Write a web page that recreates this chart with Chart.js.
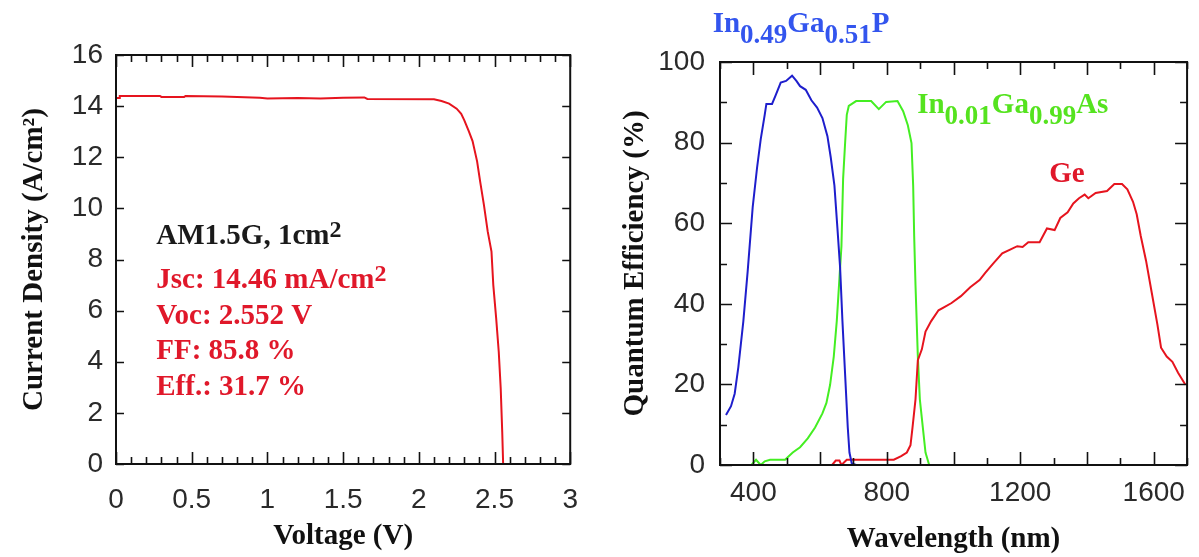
<!DOCTYPE html>
<html>
<head>
<meta charset="utf-8">
<script src="https://cdn.jsdelivr.net/npm/chart.js@4.4.0/dist/chart.umd.min.js"></script>
<style>
  html, body { margin: 0; padding: 0; background: #fff; }
  #wrap { position: relative; width: 1199px; height: 557px; overflow: hidden; }
  .box { position: absolute; top: 0; height: 557px; }
  #ivBox { left: 0; width: 600px; }
  #qeBox { left: 600px; width: 599px; }
</style>
</head>
<body>
<div id="wrap">
  <div class="box" id="ivBox"><canvas id="chart-iv"></canvas></div>
  <div class="box" id="qeBox"><canvas id="chart-qe"></canvas></div>
</div>
<script>
// J-V curve (AM1.5G)
var ivVoltage = [0, 0.02, 0.025, 0.29, 0.30, 0.45, 0.46, 0.7, 0.95, 1.0, 1.2, 1.35, 1.5, 1.64, 1.66, 2.1, 2.15, 2.2, 2.25,
    2.28, 2.30, 2.33, 2.355, 2.385, 2.405, 2.43, 2.455, 2.48, 2.492, 2.511, 2.528, 2.541, 2.551, 2.557];
var ivCurrent = [14.32, 14.32, 14.40, 14.40, 14.36, 14.36, 14.40, 14.38, 14.33, 14.30, 14.32, 14.30, 14.33, 14.34, 14.28, 14.27, 14.2, 14.1, 13.9,
    13.7, 13.45, 13.02, 12.63, 11.84, 11.06, 10.14, 9.10, 8.31, 7.0, 5.70, 4.39, 2.95, 1.25, 0];

// quantum efficiency
var ingapWavelength = [318, 333, 344, 355, 370, 383, 398, 411, 422, 434, 439, 456, 467, 482, 498, 516, 529, 540, 557, 574,
    591, 607, 622, 632, 643, 652, 660, 667, 675, 683, 688, 695, 708];
var ingapQE = [12.4, 14.6, 17.7, 24.3, 35.7, 48.1, 64.0, 73.7, 80.8, 86.9, 89.6, 89.6, 91.8, 94.9, 95.3, 96.6, 95.3, 94.0, 93.1, 90.5,
    88.7, 86.1, 81.6, 76.3, 69.3, 58.7, 49.0, 35.7, 22.5, 9.3, 3.1, 0.4, 0];

var ingaasWavelength = [318, 394, 408, 422, 434, 450, 495, 518, 540, 563, 585, 607, 619, 630, 641, 650, 658, 664, 669, 675,
    680, 686, 708, 753, 776, 798, 832, 849, 863, 874, 879, 882, 886, 893, 899, 908, 916, 927, 972];
var ingaasQE = [0, 0, 1.3, 0, 0.9, 1.3, 1.3, 3.1, 4.4, 6.6, 9.3, 12.8, 15.4, 19.9, 26.9, 35.7, 46.3, 54.3, 71.0, 79.9,
    86.9, 89.1, 90.3, 90.3, 88.3, 90.1, 90.3, 87.8, 84.3, 79.9, 69.3, 56.9, 44.6, 26.9, 16.3, 9.3, 3.1, 0, 0];

var geWavelength = [449, 501, 636, 647, 658, 664, 680, 731, 821, 843, 860, 871, 877, 886, 893, 905, 916, 933, 955, 975,
    994, 1022, 1050, 1078, 1095, 1118, 1146, 1168, 1191, 1207, 1224, 1258, 1280, 1303, 1320, 1342, 1359, 1376, 1393, 1404,
    1426, 1460, 1482, 1505, 1521, 1538, 1549, 1561, 1577, 1594, 1611, 1622, 1639, 1656, 1673, 1695];
var geQE = [0, 0, 0, 1.1, 1.1, 0, 1.3, 1.3, 1.3, 2.2, 3.1, 4.9, 9.3, 16.3, 26.0, 28.7, 33.1, 35.7, 38.4, 39.3,
    40.2, 41.9, 44.1, 45.9, 47.7, 49.9, 52.5, 53.4, 54.3, 54.1, 55.3, 55.3, 58.7, 58.3, 61.3, 62.7, 64.9, 66.2, 67.1, 66.2,
    67.5, 68.0, 69.7, 69.7, 68.4, 65.3, 62.2, 56.9, 50.7, 42.8, 34.9, 29.1, 26.9, 25.6, 22.9, 19.9];

// tick labels
var voltTicks = [0, 0.5, 1, 1.5, 2, 2.5, 3];
var currTicks = [0, 2, 4, 6, 8, 10, 12, 14, 16];
var wlTicks = [400, 800, 1200, 1600];
var qeTicks = [0, 20, 40, 60, 80, 100];

var SERIF = '"Liberation Serif", "Times New Roman", serif';
var SANS = '"Liberation Sans", Arial, sans-serif';

function pts(xs, ys) {
    return xs.map(function(x, i) { return {x: x, y: ys[i]}; });
}

// frame with inward ticks on all four sides
var frameTicks = {
    id: 'frameTicks',
    afterDatasetsDraw: function(chart, args, o) {
        var ctx = chart.ctx, a = chart.chartArea;
        var xs = chart.scales.x, ys = chart.scales.y;
        ctx.save();
        ctx.strokeStyle = '#111';
        ctx.lineWidth = 1.6;
        var n = Math.round((xs.max - xs.min) / o.xMinor);
        for (var i = 0; i <= n; i++) {
            var v = xs.min + i * o.xMinor;
            var px = Math.round(xs.getPixelForValue(v)) + 0.5;
            var q = v / o.xMajor;
            var len = Math.abs(q - Math.round(q)) < 1e-6 ? o.xLong : o.xShort;
            ctx.beginPath();
            ctx.moveTo(px, a.bottom); ctx.lineTo(px, a.bottom - len);
            ctx.moveTo(px, a.top); ctx.lineTo(px, a.top + len);
            ctx.stroke();
        }
        n = Math.round((ys.max - ys.min) / o.yMinor);
        for (var j = 0; j <= n; j++) {
            var w = ys.min + j * o.yMinor;
            var py = Math.round(ys.getPixelForValue(w)) + 0.5;
            var r = w / o.yMajor;
            var l2 = Math.abs(r - Math.round(r)) < 1e-6 ? o.yLong : o.yShort;
            ctx.beginPath();
            ctx.moveTo(a.left, py); ctx.lineTo(a.left + l2, py);
            ctx.moveTo(a.right, py); ctx.lineTo(a.right - l2, py);
            ctx.stroke();
        }
        ctx.lineWidth = 2;
        ctx.strokeRect(a.left, a.top, a.right - a.left, a.bottom - a.top);
        ctx.restore();
    }
};

// text with sub/superscripts, anchored in data coordinates
var richText = {
    id: 'richText',
    afterDraw: function(chart, args, o) {
        var ctx = chart.ctx, xs = chart.scales.x, ys = chart.scales.y;
        o.items.forEach(function(it) {
            var x = xs.getPixelForValue(it.x), y = ys.getPixelForValue(it.y);
            ctx.save();
            ctx.fillStyle = it.color;
            ctx.textBaseline = 'alphabetic';
            ctx.textAlign = 'left';
            it.runs.forEach(function(r) {
                var size = r.sub ? o.subSize : (r.sup ? o.supSize : o.size);
                var dy = r.sub ? o.subShift : (r.sup ? -o.supShift : 0);
                ctx.font = 'bold ' + size + 'px ' + SERIF;
                ctx.fillText(r.t, x, y + dy);
                x += ctx.measureText(r.t).width;
            });
            ctx.restore();
        });
    }
};

function baseOptions(o) {
    return {
        responsive: true,
        maintainAspectRatio: false,
        animation: false,
        layout: { padding: o.pad },
        plugins: {
            legend: { display: false },
            tooltip: { enabled: false },
            frameTicks: o.frame,
            richText: o.text
        },
        elements: { point: { radius: 0 }, line: { tension: 0, borderWidth: 2 } },
        scales: {
            x: {
                type: 'linear', min: o.xMin, max: o.xMax,
                afterFit: function(s) { s.height = o.xHeight; },
                afterBuildTicks: function(s) { s.ticks = o.xTicks.map(function(v) { return {value: v}; }); },
                grid: { display: false, drawTicks: false },
                border: { display: false },
                ticks: {
                    autoSkip: false, maxRotation: 0, padding: o.xPad, color: '#2a2a2a',
                    font: { family: SANS, size: 28, lineHeight: 1 },
                    callback: function(v) { return String(v); }
                },
                title: {
                    display: true, text: o.xTitle, color: '#111',
                    font: { family: SERIF, size: 29, weight: 'bold', lineHeight: 1 },
                    padding: { top: 0, bottom: o.xTitlePad }
                }
            },
            y: {
                type: 'linear', min: o.yMin, max: o.yMax,
                afterFit: function(s) { s.width = o.yWidth; },
                afterBuildTicks: function(s) { s.ticks = o.yTicks.map(function(v) { return {value: v}; }); },
                grid: { display: false, drawTicks: false },
                border: { display: false },
                ticks: {
                    padding: o.yPad, color: '#2a2a2a',
                    font: { family: SANS, size: 28, lineHeight: 1 },
                    callback: function(v) { return String(v); }
                },
                title: {
                    display: true, text: o.yTitle, color: '#111',
                    font: { family: SERIF, size: 29, weight: 'bold', lineHeight: 1 },
                    padding: { top: o.yTitlePad, bottom: 0 }
                }
            }
        }
    };
}

var red = '#e6141e';
var txtRed = '#e0182a';

var iv = document.getElementById('chart-iv').getContext('2d');
new Chart(iv, {
    type: 'scatter',
    data: {
        datasets: [{
            label: 'J-V',
            data: pts(ivVoltage, ivCurrent),
            showLine: true,
            borderColor: red,
            backgroundColor: red,
            borderWidth: 2
        }]
    },
    options: baseOptions({
        pad: { top: 55, right: 11, left: 0, bottom: 0 },
        xMin: 0, xMax: 3, yMin: 0, yMax: 16,
        xTicks: voltTicks, yTicks: currTicks,
        xHeight: 93, yWidth: 116, xPad: 22, yPad: 13,
        xTitle: 'Voltage (V)', yTitle: 'Current Density (A/cm\u00b2)',
        xTitlePad: 5.5, yTitlePad: 20,
        frame: { xMinor: 0.1, xMajor: 0.5, xLong: 12, xShort: 7, yMinor: 2, yMajor: 2, yLong: 8, yShort: 8 },
        text: {
            size: 29, supSize: 24, supShift: 7, subSize: 27, subShift: 11,
            items: [
                { x: 0.266, y: 8.61, color: '#1a1a1a', runs: [{t: 'AM1.5G, 1cm'}, {t: '2', sup: true}] },
                { x: 0.266, y: 6.89, color: txtRed, runs: [{t: 'Jsc: 14.46 mA/cm'}, {t: '2', sup: true}] },
                { x: 0.266, y: 5.48, color: txtRed, runs: [{t: 'Voc: 2.552 V'}] },
                { x: 0.266, y: 4.11, color: txtRed, runs: [{t: 'FF: 85.8 %'}] },
                { x: 0.266, y: 2.70, color: txtRed, runs: [{t: 'Eff.: 31.7 %'}] }
            ]
        }
    }),
    plugins: [frameTicks, richText]
});

var qe = document.getElementById('chart-qe').getContext('2d');
new Chart(qe, {
    type: 'scatter',
    data: {
        datasets: [{
            label: 'In0.49Ga0.51P',
            data: pts(ingapWavelength, ingapQE),
            showLine: true,
            borderColor: '#1e1ecc',
            backgroundColor: '#1e1ecc'
        }, {
            label: 'Ge',
            data: pts(geWavelength, geQE),
            showLine: true,
            borderColor: red,
            backgroundColor: red
        }, {
            label: 'In0.01Ga0.99As',
            data: pts(ingaasWavelength, ingaasQE),
            showLine: true,
            borderColor: '#44ee22',
            backgroundColor: '#44ee22'
        }]
    },
    options: baseOptions({
        pad: { top: 62, right: 2, left: 0, bottom: 0 },
        xMin: 300, xMax: 1700, yMin: 0, yMax: 100,
        xTicks: wlTicks, yTicks: qeTicks,
        xHeight: 92, yWidth: 120, xPad: 14, yPad: 15,
        xTitle: 'Wavelength (nm)', yTitle: 'Quantum Efficiency (%)',
        xTitlePad: 3.3, yTitlePad: 21.5,
        frame: { xMinor: 100, xMajor: 200, xLong: 13, xShort: 7, yMinor: 10, yMajor: 20, yLong: 12, yShort: 7 },
        text: {
            size: 29, supSize: 24, supShift: 7, subSize: 27, subShift: 11,
            items: [
                { x: 278, y: 107.4, color: '#3355ee', runs: [{t: 'In'}, {t: '0.49', sub: true}, {t: 'Ga'}, {t: '0.51', sub: true}, {t: 'P'}] },
                { x: 891, y: 87.3, color: '#55e31f', runs: [{t: 'In'}, {t: '0.01', sub: true}, {t: 'Ga'}, {t: '0.99', sub: true}, {t: 'As'}] },
                { x: 1287, y: 70.2, color: txtRed, runs: [{t: 'Ge'}] }
            ]
        }
    }),
    plugins: [frameTicks, richText]
});
</script>
</body>
</html>
